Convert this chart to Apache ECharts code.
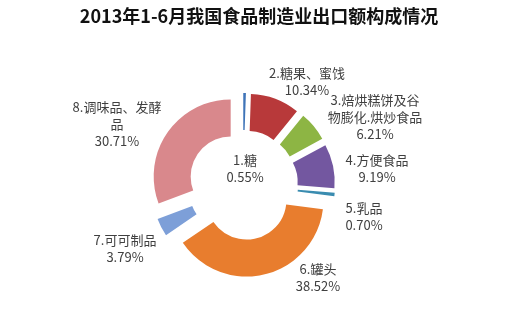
<!DOCTYPE html>
<html>
<head>
<meta charset="utf-8">
<script src="https://cdn.jsdelivr.net/npm/echarts@6/dist/echarts.min.js"></script>
<style>
html,body{margin:0;padding:0;background:#fff;}
#chart{width:518px;height:329px;}
</style>
</head>
<body>
<div id="chart"></div>
<script>
var titleText = '2013年1-6月我国食品制造业出口额构成情况';
var categories = ['1.糖', '2.糖果、蜜饯', '3.焙烘糕饼及谷\n物膨化.烘炒食品', '4.方便食品', '5.乳品', '6.罐头', '7.可可制品', '8.调味品、发酵\n品'];
var values = [0.55, 10.34, 6.21, 9.19, 0.70, 38.52, 3.79, 30.71];
var colors = ['#3f74b8', '#b8393a', '#8db544', '#7357a0', '#3a8cb0', '#e87d2e', '#7d9fd8', '#d9888c'];
// label anchor positions (text block centres)
var labelPos = [[245,169],[307,82],[375,117],[377,169],[364,217],[318,278],[125,249],[117,124]];

var chart = echarts.init(document.getElementById('chart'), null, {renderer:'canvas'});
var data = categories.map(function(c, i){
  return {name: c, value: values[i], selected: true, itemStyle: {color: colors[i]}};
});
var labels = categories.map(function(c, i){
  return {
    type: 'text',
    x: labelPos[i][0],
    y: labelPos[i][1],
    z: 10,
    style: {
      text: c + '\n' + values[i].toFixed(2) + '%',
      font: '13px "Noto Sans CJK SC"',
      lineHeight: 17,
      fill: '#404040',
      align: 'center',
      verticalAlign: 'middle'
    }
  };
});
chart.setOption({
  backgroundColor: '#ffffff',
  animation: false,
  title: {
    text: titleText,
    left: 'center',
    top: 2,
    textStyle: {fontFamily: 'Noto Sans CJK SC', fontSize: 18, fontWeight: 'bold', color: '#111'}
  },
  graphic: labels,
  series: [{
    type: 'pie',
    center: [243, 185],
    radius: [40, 77],
    startAngle: 90,
    clockwise: true,
    selectedMode: 'multiple',
    selectedOffset: 15,
    emphasis: {disabled: true},
    itemStyle: {borderWidth: 0},
    label: {show: false},
    labelLine: {show: false},
    data: data
  }]
});
</script>
</body>
</html>
